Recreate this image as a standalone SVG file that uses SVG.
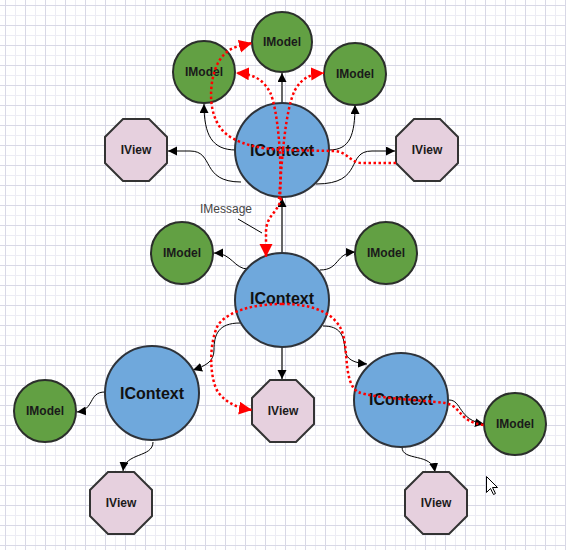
<svg xmlns="http://www.w3.org/2000/svg" width="566" height="550" viewBox="0 0 566 550">
  <defs>
    <pattern id="grid" width="20" height="20" patternUnits="userSpaceOnUse">
      <path d="M15.5 0V20M0 15.5H20" stroke="#ececf4" stroke-width="1" fill="none"/>
      <path d="M5.5 0V20M0 5.5H20" stroke="#d8d8e6" stroke-width="1" fill="none"/>
    </pattern>
    <marker id="arrow" markerUnits="userSpaceOnUse" markerWidth="10" markerHeight="10" refX="9" refY="4.5" orient="auto" viewBox="0 0 10 10">
      <path d="M0 0L9 4.5L0 9Z" fill="#000"/>
    </marker>
    <marker id="arrowRed" markerUnits="userSpaceOnUse" markerWidth="14" markerHeight="14" refX="13" refY="6.5" orient="auto" viewBox="0 0 14 14">
      <path d="M0 0L13 6.5L0 13Z" fill="#ff0000"/>
    </marker>
    <polygon id="oct" points="-13,-31 13,-31 31,-13 31,13 13,31 -13,31 -31,13 -31,-13"/>
  </defs>
  <style>
    .ctx { fill: #6fa8dc; stroke: #2e333a; stroke-width: 2; }
    .model { fill: #62a043; stroke: #2b2f2b; stroke-width: 2; }
    .view { fill: #e6d0de; stroke: #333333; stroke-width: 2; }
    .lbl { font-family: "Liberation Sans", Arial, sans-serif; fill: #111; text-anchor: middle; }
    .ctxl { font-size: 16px; font-weight: bold; }
    .sml { font-size: 12px; font-weight: bold; fill: #1a1a1a; }
    .edge { fill: none; stroke: #000; stroke-width: 1; marker-end: url(#arrow); }
    .trunk { fill: none; stroke: #666; stroke-width: 2; marker-end: url(#arrow); }
    .msg { fill: none; stroke: #ff0000; stroke-width: 2.5; stroke-dasharray: 2.5 2.5; }
    .msga { marker-end: url(#arrowRed); }
  </style>

  <rect width="566" height="550" fill="#ffffff"/>
  <rect width="566" height="550" fill="url(#grid)"/>

  <!-- black connectors -->
  <g id="connectors">
    <path class="trunk" d="M282 103L282 73"/>
    <path class="edge" d="M236 150C212 150 204 135 204 104"/>
    <path class="edge" d="M329 150C350 150 355 135 355 105"/>
    <path class="edge" d="M241 182C200 182 215 151 190 151L168 151"/>
    <path class="edge" d="M316 184C365 184 345 151 372 151L395 151"/>
    <path class="trunk" d="M282 252L282 198"/>
    <path class="edge" d="M248 269C234 269 232 253 214 253"/>
    <path class="edge" d="M320 270C340 270 335 253 355 252"/>
    <path class="edge" d="M240 323C218 323 214 335 214 350C214 362 205 366 193 370"/>
    <path class="edge" d="M323 326C340 326 344 335 345 350C346 360 355 363 367 364"/>
    <path class="trunk" d="M282 347L282 379"/>
    <path class="edge" d="M105 392C88 392 95 410 77 412"/>
    <path class="edge" d="M153 442C153 458 125 452 123 471"/>
    <path class="edge" d="M449 400C462 400 458 420 484 424"/>
    <path class="edge" d="M402 447C402 462 432 452 435 472"/>
    <path d="M238 219L262 233" stroke="#000" stroke-width="1" fill="none"/>
  </g>

  <g id="ctx-top"><circle class="ctx" cx="282" cy="150" r="47"/><text class="lbl ctxl" x="282" y="156">IContext</text></g>
  <g id="model-top"><circle class="model" cx="282" cy="42" r="30"/><text class="lbl sml" x="282" y="46">IModel</text></g>
  <g id="model-top-left"><circle class="model" cx="204" cy="72" r="31"/><text class="lbl sml" x="204" y="76">IModel</text></g>
  <g id="model-top-right"><circle class="model" cx="355" cy="74" r="31"/><text class="lbl sml" x="355" y="78">IModel</text></g>
  <g id="view-top-left"><use href="#oct" x="136" y="150" class="view"/><text class="lbl sml" x="136" y="154">IView</text></g>
  <g id="view-top-right"><use href="#oct" x="427" y="150" class="view"/><text class="lbl sml" x="427" y="154">IView</text></g>

  <g id="ctx-mid"><circle class="ctx" cx="282" cy="300" r="47"/><text class="lbl ctxl" x="282" y="304">IContext</text></g>
  <g id="model-mid-left"><circle class="model" cx="182" cy="253" r="31"/><text class="lbl sml" x="182" y="257">IModel</text></g>
  <g id="model-mid-right"><circle class="model" cx="386" cy="253" r="31"/><text class="lbl sml" x="386" y="257">IModel</text></g>
  <g id="view-mid"><use href="#oct" x="283" y="411" class="view"/><text class="lbl sml" x="283" y="415">IView</text></g>

  <g id="ctx-left"><circle class="ctx" cx="152" cy="393" r="47"/><text class="lbl ctxl" x="152" y="399">IContext</text></g>
  <g id="model-left"><circle class="model" cx="45" cy="411" r="31"/><text class="lbl sml" x="45" y="415">IModel</text></g>
  <g id="view-left"><use href="#oct" x="121" y="503" class="view"/><text class="lbl sml" x="121" y="507">IView</text></g>

  <g id="ctx-right"><circle class="ctx" cx="401" cy="400" r="47"/><text class="lbl ctxl" x="401" y="405">IContext</text></g>
  <g id="model-right"><circle class="model" cx="515" cy="424" r="31"/><text class="lbl sml" x="515" y="428">IModel</text></g>
  <g id="view-right"><use href="#oct" x="436" y="503" class="view"/><text class="lbl sml" x="436" y="507">IView</text></g>

  <!-- message flows (drawn over the nodes) -->
  <g id="messages">
    <path class="msg msga" d="M396 163L362 163C350 163 348 152 335 151L285 150C260 149 245 145 232 138C212 127 208 100 213 77C217 58 228 48 240 46L252 43"/>
    <path class="msg msga" d="M280 199C282 160 278 110 270 92C262 78 252 74 236 73"/>
    <path class="msg msga" d="M279 199C282 160 285 110 295 90C302 78 310 74 324 73"/>
    <path class="msg msga" d="M281 198C279 212 266 215 266 232L266 257"/>
    <path class="msg msga" d="M282 304C258 304 230 309 218 325C208 345 210 380 218 392C226 403 238 408 252 410"/>
    <path class="msg" d="M282 304C308 304 330 310 340 327C350 345 342 382 358 392C372 398 420 400 445 403C462 406 458 422 484 425"/>
    <text x="200" y="213" font-family="Liberation Sans, Arial, sans-serif" font-size="12" fill="#444">IMessage</text>
  </g>

  <!-- pointer -->
  <path d="M486.5 476.5L486.5 492.5L490.5 488.5L493.5 494.5L495.5 493.5L492.5 487.5L497.5 487.5Z" fill="#fff" stroke="#000" stroke-width="1"/>
</svg>
